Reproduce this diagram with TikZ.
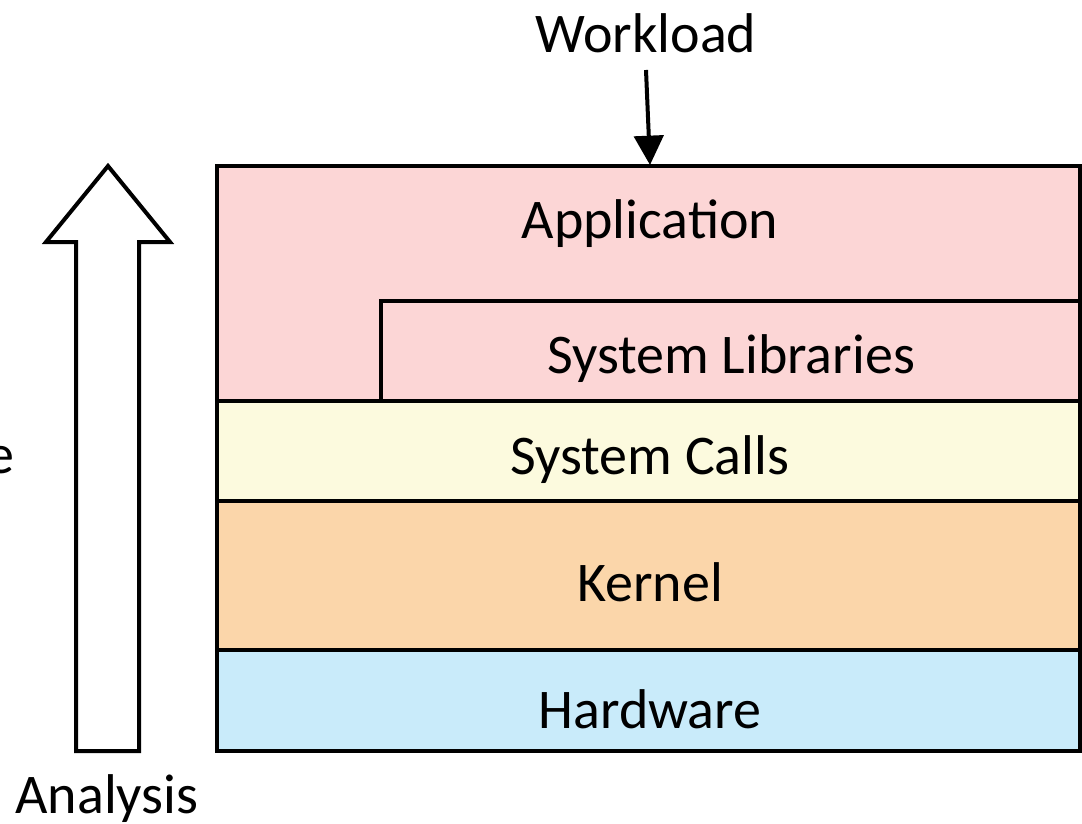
\documentclass[tikz,border=0pt]{standalone}
\usepackage{fontspec}
\setmainfont{Carlito}
\usetikzlibrary{arrows.meta}
\definecolor{apppink}{RGB}{252,214,214}
\definecolor{calyel}{RGB}{252,250,222}
\definecolor{kerorg}{RGB}{251,214,170}
\definecolor{hwblue}{RGB}{201,235,250}
\begin{document}
\begin{tikzpicture}[x=0.75pt,y=-0.75pt,
  layer/.style={draw=black,line width=3pt},
  lbl/.style={font=\fontsize{42}{46}\selectfont,inner sep=0pt}]
\useasboundingbox (0,0) rectangle (1082,824);
\fill[white] (0,0) rectangle (1082,824);
% layers
\filldraw[layer,fill=apppink] (217,166) rectangle (1080,401);
\filldraw[layer,fill=apppink] (381,301) rectangle (1080,401);
\filldraw[layer,fill=calyel] (217,401) rectangle (1080,501);
\filldraw[layer,fill=kerorg] (217,501) rectangle (1080,650);
\filldraw[layer,fill=hwblue] (217,650) rectangle (1080,751);
\node[lbl] (app) at (650,224) {Application};
\node[lbl] (lib) at (731,359) {System Libraries};
\node[lbl] (sys) at (650,460) {System Calls};
\node[lbl] (ker) at (650,582) {Kernel};
\node[lbl] (hw) at (650,709) {Hardware};
% workload
\node[lbl] (wl) at (646,33) {Workload};
\coordinate (wltop) at (646,70);
\coordinate (apptop) at (650,165);
\draw[line width=3pt,-{Triangle[length=22pt,width=22pt]}] (wltop) -- (apptop);
% hollow arrow
\draw[line width=3pt,line join=miter] (108,166) -- (170,242) -- (139,242) -- (139,751) -- (76,751) -- (76,242) -- (46,242) -- cycle;
\node[lbl] (an) at (107,799) {Analysis};
\node[lbl,anchor=east] (e) at (15,460) {e};
\end{tikzpicture}
\end{document}
